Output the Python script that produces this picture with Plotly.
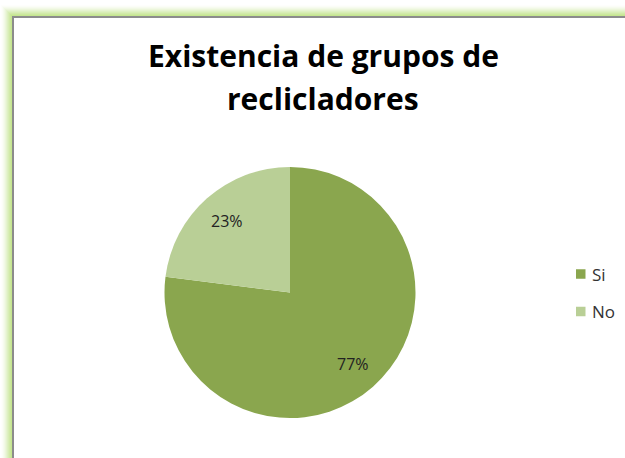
import math
import plotly.graph_objects as go

labels = ["Si", "No"]
values = [77, 23]
colors = ["#8AA64E", "#B9CF96"]
title_lines = ["Existencia de grupos de", "reclicladores"]

W, H = 625, 458

def px(x):
    return x / W

def py(y):
    return 1 - y / H

# pie geometry (pixels)
CX, CY, R = 290, 292.5, 125.5

fig = go.Figure()
fig.add_trace(go.Pie(
    labels=labels, values=values, sort=False, direction="clockwise", rotation=0,
    marker=dict(colors=colors, line=dict(width=0)),
    textinfo="none",
    domain=dict(x=[px(CX - R), px(CX + R)], y=[py(CY + R), py(CY - R)]),
    hoverinfo="label+percent",
    showlegend=False,
))

shapes = []
annotations = []

# soft green glow around the frame
for k in range(12, 0, -1):
    a = 0.2 * (1 - k / 13)
    shapes.append(dict(type="rect", xref="paper", yref="paper",
                       x0=px(13 - k), x1=px(W + 40), y0=py(H + 40), y1=py(17 - k),
                       line=dict(width=0), fillcolor=f"rgba(170,220,90,{a:.3f})", layer="below"))
shapes.append(dict(type="rect", xref="paper", yref="paper",
                   x0=px(13), x1=px(W + 40), y0=py(H + 40), y1=py(17),
                   line=dict(width=2, color="#8C8C8C"), fillcolor="white", layer="below"))

# percentage labels at 0.76 R along each slice's mid-angle (clockwise from top)
total = sum(values)
cum = 0
for v in values:
    mid = (cum + v / 2) / total * 2 * math.pi
    cum += v
    lx = CX + 0.76 * R * math.sin(mid)
    ly = CY - 0.76 * R * math.cos(mid)
    annotations.append(dict(text=f"{round(100 * v / total)}%", x=px(lx), y=py(ly),
                            xref="paper", yref="paper", showarrow=False,
                            xanchor="center", yanchor="middle",
                            font=dict(family="Open Sans", size=16, color="#222222")))

# legend drawn from labels/colors
for i, (lab, col) in enumerate(zip(labels, colors)):
    ycen = 274 + i * 37.5
    shapes.append(dict(type="rect", xref="paper", yref="paper",
                       x0=px(576), x1=px(585.5), y0=py(ycen + 4.75), y1=py(ycen - 4.75),
                       line=dict(width=0), fillcolor=col))
    annotations.append(dict(text=lab, x=px(590), y=py(ycen), xref="paper", yref="paper",
                            showarrow=False, xanchor="left", yanchor="middle",
                            font=dict(family="Open Sans", size=17, color="#333333")))

for i, line in enumerate(title_lines):
    annotations.append(dict(text="<b>" + line + "</b>",
                            x=px(323), y=py(33 + i * 43), xref="paper", yref="paper",
                            xanchor="center", yanchor="top", showarrow=False,
                            font=dict(family="Open Sans", size=30, color="#000000")))

fig.update_layout(
    width=W, height=H,
    margin=dict(l=0, r=0, t=0, b=0),
    paper_bgcolor="white",
    shapes=shapes,
    annotations=annotations,
    showlegend=False,
)

fig.write_html("out.html", config={"displayModeBar": False},
               post_script="document.body.style.margin='0px';")
